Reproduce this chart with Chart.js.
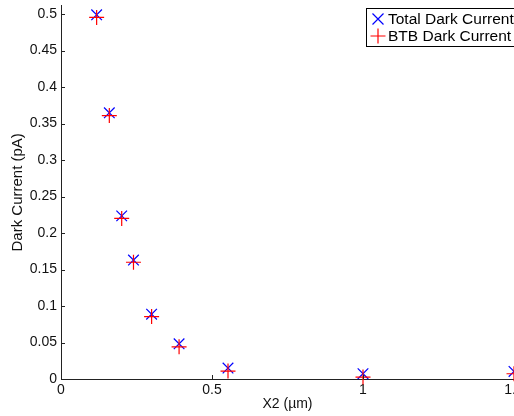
<!DOCTYPE html>
<html>
<head>
<meta charset="utf-8">
<script src="https://cdn.jsdelivr.net/npm/chart.js@4/dist/chart.umd.min.js"></script>
<style>
  html, body { margin: 0; padding: 0; background: #fff; overflow: hidden; }
  #wrap { width: 540px; height: 416px; overflow: hidden; }
  #dark-chart { display: block; margin-top: -3px; }
</style>
</head>
<body>
<div id="wrap"><canvas id="dark-chart" width="540" height="419"></canvas></div>
<script>
// X2 width in um
var x2Values = [0.118, 0.16, 0.201, 0.24, 0.30, 0.391, 0.553, 1.0, 1.5];
// dark current in pA
var totalCurrent = [0.499, 0.3648, 0.2235, 0.163, 0.0888, 0.0482, 0.015, 0.0072, 0.0104];
var btbCurrent   = [0.4954, 0.361, 0.22, 0.16, 0.0855, 0.0441, 0.0109, 0.0027, 0.0072];
var yTicks = [0, 0.05, 0.1, 0.15, 0.2, 0.25, 0.3, 0.35, 0.4, 0.45, 0.5];
var xTicks = [0, 0.5, 1, 1.5];

function toPoints(xs, ys) {
  var pts = [];
  for (var i = 0; i < xs.length; i++) pts.push({ x: xs[i], y: ys[i] });
  return pts;
}

function fmt(v) {
  return String(Math.round(v * 100) / 100);
}

var FONT = "'Liberation Sans', Arial, Helvetica, sans-serif";

// matlab style ticks pointing into the axes
var innerTicks = {
  id: 'innerTicks',
  afterDraw: function(chart) {
    var ctx = chart.ctx;
    var xs = chart.scales.x, ys = chart.scales.y;
    var area = chart.chartArea;
    ctx.save();
    ctx.strokeStyle = '#222';
    ctx.lineWidth = 1;
    ctx.beginPath();
    yTicks.forEach(function(v) {
      var py = Math.round(ys.getPixelForValue(v)) + 0.5;
      ctx.moveTo(area.left, py);
      ctx.lineTo(area.left + 4, py);
    });
    xTicks.forEach(function(v) {
      var px = Math.round(xs.getPixelForValue(v)) + 0.5;
      ctx.moveTo(px, area.bottom);
      ctx.lineTo(px, area.bottom - 4);
    });
    ctx.stroke();
    ctx.restore();
  }
};

// boxed legend in the top right corner (canvas is shifted up 3px)
var boxLegend = {
  id: 'boxLegend',
  afterDraw: function(chart) {
    var ctx = chart.ctx;
    var bx = 366.5, by = 11.5, bw = 200, bh = 38;
    ctx.save();
    ctx.fillStyle = '#fff';
    ctx.fillRect(bx, by, bw, bh);
    ctx.strokeStyle = '#000';
    ctx.lineWidth = 1;
    ctx.strokeRect(bx, by, bw, bh);
    var rows = [22, 39];
    chart.data.datasets.forEach(function(ds, i) {
      var cy = rows[i], cx = 378;
      ctx.strokeStyle = ds.borderColor;
      ctx.lineWidth = 1.2;
      ctx.beginPath();
      if (ds.pointStyle === 'crossRot') {
        var d = 5.5;
        ctx.moveTo(cx - d, cy - d); ctx.lineTo(cx + d, cy + d);
        ctx.moveTo(cx - d, cy + d); ctx.lineTo(cx + d, cy - d);
      } else {
        var r = 7.5;
        ctx.moveTo(cx - r, cy); ctx.lineTo(cx + r, cy);
        ctx.moveTo(cx, cy - r); ctx.lineTo(cx, cy + r);
      }
      ctx.stroke();
      ctx.fillStyle = '#000';
      ctx.font = '15.5px ' + FONT;
      ctx.textBaseline = 'middle';
      ctx.textAlign = 'left';
      ctx.fillText(ds.label, 388, cy + 1);
    });
    ctx.restore();
  }
};

var ctx = document.getElementById('dark-chart').getContext('2d');
var chart = new Chart(ctx, {
  type: 'scatter',
  data: {
    datasets: [{
      label: 'Total Dark Current',
      data: toPoints(x2Values, totalCurrent),
      pointStyle: 'crossRot',
      borderColor: '#0000ff',
      backgroundColor: '#0000ff',
      pointRadius: 7.5,
      pointBorderWidth: 1.2,
      order: 1
    }, {
      label: 'BTB Dark Current',
      data: toPoints(x2Values, btbCurrent),
      pointStyle: 'cross',
      borderColor: '#ff0000',
      backgroundColor: '#ff0000',
      pointRadius: 7.5,
      pointBorderWidth: 1.2,
      order: 0
    }]
  },
  options: {
    responsive: false,
    animation: false,
    clip: false,
    layout: { padding: { top: 2, right: 26, left: 0, bottom: 0 } },
    plugins: {
      legend: { display: false },
      tooltip: { enabled: false }
    },
    scales: {
      x: {
        type: 'linear',
        min: 0,
        max: 1.5,
        afterBuildTicks: function(scale) {
          scale.ticks = xTicks.map(function(v) { return { value: v }; });
        },
        afterFit: function(scale) {
          scale.height = 37;
          scale.paddingLeft = 0;
          scale.paddingRight = 0;
        },
        grid: { drawOnChartArea: false, drawTicks: false },
        border: { display: true, color: '#222', width: 1 },
        ticks: {
          padding: 3,
          color: '#111',
          maxRotation: 0,
          font: { family: FONT, size: 14 },
          callback: function(v) { return fmt(v); }
        },
        title: {
          display: true,
          text: 'X2 (\u00b5m)',
          color: '#111',
          font: { family: FONT, size: 14 },
          padding: { top: 0, bottom: 3 }
        }
      },
      y: {
        type: 'linear',
        min: 0,
        max: 0.5115,
        afterBuildTicks: function(scale) {
          scale.ticks = yTicks.map(function(v) { return { value: v }; });
        },
        afterFit: function(scale) {
          scale.width = 61;
          scale.paddingTop = 0;
          scale.paddingBottom = 0;
        },
        grid: { drawOnChartArea: false, drawTicks: false },
        border: { display: true, color: '#222', width: 1 },
        ticks: {
          padding: 4,
          color: '#111',
          font: { family: FONT, size: 14 },
          callback: function(v) { return fmt(v); }
        },
        title: {
          display: true,
          text: 'Dark Current (pA)',
          color: '#111',
          font: { family: FONT, size: 15 },
          padding: { top: 9, bottom: 0 }
        }
      }
    }
  },
  plugins: [innerTicks, boxLegend]
});
</script>
</body>
</html>
